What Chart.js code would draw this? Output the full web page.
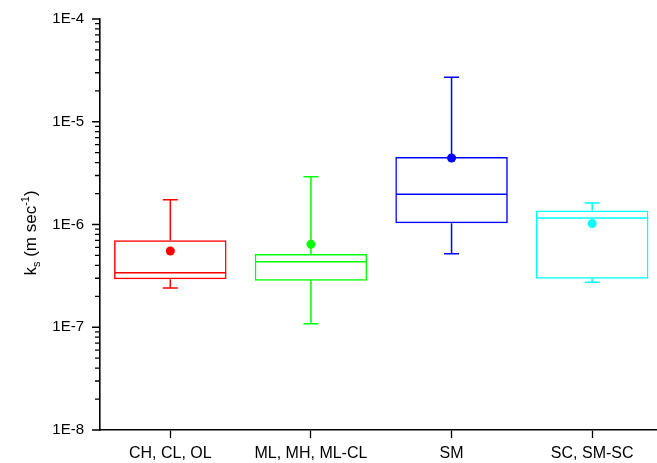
<!DOCTYPE html>
<html><head><meta charset="utf-8">
<script src="https://cdn.jsdelivr.net/npm/chart.js@4/dist/chart.umd.min.js"></script>
<style>html,body{margin:0;padding:0;background:#fff;overflow:hidden;}</style>
</head><body>
<canvas id="c" width="667" height="463"></canvas>
<script>
const categories = ['CH, CL, OL', 'ML, MH, ML-CL', 'SM', 'SC, SM-SC'];
const whiskerLow  = [2.41e-7, 1.08e-7, 5.2e-7, 2.74e-7];
const q1          = [2.93e-7, 2.84e-7, 1.03e-6, 2.97e-7];
const median      = [3.40e-7, 4.35e-7, 1.97e-6, 1.16e-6];
const q3          = [7.01e-7, 5.16e-7, 4.54e-6, 1.37e-6];
const whiskerHigh = [1.74e-6, 2.92e-6, 2.71e-5, 1.62e-6];
const mean        = [5.52e-7, 6.41e-7, 4.44e-6, 1.02e-6];
const colors = ['#ff0000', '#00ff00', '#0000ff', '#00ffff'];
const yMajorTicks = [1e-8, 1e-7, 1e-6, 1e-5, 1e-4];
const yTickLabels = ['1E-8', '1E-7', '1E-6', '1E-5', '1E-4'];
const yMinorMultipliers = [2, 3, 4, 5, 6, 7, 8, 9];

const FONT = '"Liberation Sans", Arial, sans-serif';
const LW = 1.5;

function isMajor(v) { return yMajorTicks.findIndex(m => Math.abs(m - v) / m < 1e-6); }

const boxParts = {
  id: 'boxParts',
  beforeDatasetsDraw(chart) {
    const ctx = chart.ctx, y = chart.scales.y;
    const meta = chart.getDatasetMeta(0);
    ctx.save();
    ctx.lineWidth = LW;
    meta.data.forEach((bar, i) => {
      const {x, width} = bar.getProps(['x', 'width'], true);
      ctx.strokeStyle = colors[i];
      const cap = 7.5;
      const pHi = y.getPixelForValue(whiskerHigh[i]);
      const pQ3 = y.getPixelForValue(q3[i]);
      const pQ1 = y.getPixelForValue(q1[i]);
      const pLo = y.getPixelForValue(whiskerLow[i]);
      const pMed = y.getPixelForValue(median[i]);
      ctx.beginPath();
      ctx.moveTo(x, pQ3); ctx.lineTo(x, pHi);
      ctx.moveTo(x - cap, pHi); ctx.lineTo(x + cap, pHi);
      ctx.moveTo(x, pQ1); ctx.lineTo(x, pLo);
      ctx.moveTo(x - cap, pLo); ctx.lineTo(x + cap, pLo);
      ctx.moveTo(x - width / 2 + LW / 2, pMed); ctx.lineTo(x + width / 2 - LW / 2, pMed);
      ctx.stroke();
    });
    ctx.restore();
  },
  afterDraw(chart) {
    const ctx = chart.ctx, y = chart.scales.y;
    const left = chart.chartArea.left;
    ctx.save();
    ctx.strokeStyle = '#000';
    ctx.lineWidth = 1.3;
    ctx.beginPath();
    y.ticks.forEach(t => {
      const p = y.getPixelForValue(t.value);
      const len = isMajor(t.value) >= 0 ? 8 : 5;
      ctx.moveTo(left - len, p); ctx.lineTo(left, p);
    });
    ctx.stroke();
    const big = '17px ' + FONT, small = '11px ' + FONT;
    const parts = [['k', big, 0], ['s', small, 4], [' (m sec', big, 0], ['-1', small, -7], [')', big, 0]];
    let total = 0;
    parts.forEach(p => { ctx.font = p[1]; total += ctx.measureText(p[0]).width; });
    ctx.translate(30, 233);
    ctx.rotate(-Math.PI / 2);
    ctx.fillStyle = '#000';
    ctx.textBaseline = 'alphabetic';
    ctx.textAlign = 'left';
    let xx = -total / 2;
    parts.forEach(p => {
      ctx.font = p[1];
      ctx.fillText(p[0], xx, 6 + p[2]);
      xx += ctx.measureText(p[0]).width;
    });
    ctx.restore();
  }
};

new Chart(document.getElementById('c'), {
  type: 'bar',
  data: {
    labels: categories,
    datasets: [
      {
        type: 'bar',
        data: q1.map((v, i) => [v, q3[i]]),
        backgroundColor: 'rgba(0,0,0,0)',
        borderColor: colors,
        borderWidth: LW,
        borderSkipped: false,
        barPercentage: 0.8,
        categoryPercentage: 1.0,
        order: 1
      },
      {
        type: 'line',
        data: mean,
        showLine: false,
        pointRadius: 4.5,
        pointBackgroundColor: colors,
        pointBorderColor: colors,
        pointBorderWidth: 0,
        order: 0
      }
    ]
  },
  options: {
    responsive: false,
    animation: false,
    layout: {padding: {top: 19, left: 0, right: 0, bottom: 0}},
    plugins: {legend: {display: false}, tooltip: {enabled: false}},
    scales: {
      x: {
        type: 'category',
        offset: true,
        grid: {display: true, drawOnChartArea: false, drawTicks: true, tickLength: 8, tickWidth: 1.3, tickColor: '#000', offset: false},
        border: {display: true, color: '#000', width: 1.6},
        ticks: {font: {family: FONT, size: 16}, color: '#000', padding: 6, maxRotation: 0, autoSkip: false},
        afterFit(s) { s.height = 33; s.paddingTop = 0; s.paddingBottom = 0; }
      },
      y: {
        type: 'logarithmic',
        min: 1e-8,
        max: 1e-4,
        grid: {display: false, drawTicks: false},
        border: {display: true, color: '#000', width: 1.6},
        afterBuildTicks(s) {
          const t = [];
          yMajorTicks.forEach((m, k) => {
            t.push({value: m, major: true});
            if (k < yMajorTicks.length - 1) yMinorMultipliers.forEach(f => t.push({value: m * f, major: false}));
          });
          s.ticks = t;
        },
        ticks: {
          autoSkip: false, padding: 16, color: '#000',
          font: {family: FONT, size: 15},
          callback(v) { const i = isMajor(v); return i >= 0 ? yTickLabels[i] : ''; }
        },
        afterFit(s) { s.width = 100; s.paddingTop = 0; s.paddingBottom = 0; }
      }
    }
  },
  plugins: [boxParts]
});
</script>
</body></html>
